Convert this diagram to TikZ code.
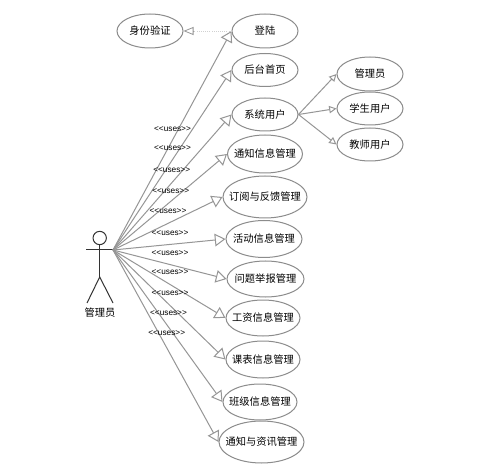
\documentclass[tikz,border=0pt]{standalone}
\usepackage{fontspec}
\setmainfont{Liberation Sans}[Ligatures=NoCommon]
\newfontfamily\cjk{Noto Sans CJK SC}
\usetikzlibrary{shapes.geometric,arrows.meta}
\definecolor{ucline}{HTML}{8C8C8C}
\definecolor{arrline}{HTML}{969696}
\newcommand{\uct}[1]{\makebox[0pt]{#1}}
\newcommand{\usesmark}{<{}<uses>{}>}
\tikzset{
  uc/.style n args={2}{ellipse,draw=ucline,line width=0.75pt,fill=white,inner sep=0pt,
    minimum width=#1*1.5pt,minimum height=#2*1.5pt,font=\cjk\fontsize{7.7pt}{9pt}\selectfont,text=black},
  usesline/.style={draw=arrline,line width=0.75pt,-{Triangle[open,length=8pt,width=9.5pt,fill=white]}},
  subline/.style={draw=arrline,line width=0.75pt,-{Triangle[open,length=5.5pt,width=5.5pt,fill=white]}},
  usestext/.style={font=\fontsize{6.2pt}{7pt}\selectfont,inner sep=0pt,text=black},
  actorline/.style={draw=black!80,line width=0.75pt},
}
\begin{document}
\begin{tikzpicture}[x=0.75pt,y=-0.75pt]
\path[use as bounding box,fill=white] (0,0) rectangle (503,470);

% actor
\node[circle,draw=black!80,line width=0.75pt,minimum size=10pt,inner sep=0pt] (head) at (99.7,238) {};
\coordinate (hub) at (113,250);
\coordinate (handl) at (86,250);
\coordinate (hip) at (99.7,277);
\coordinate (footl) at (87,303);
\coordinate (footr) at (113,303);
\draw[actorline] (handl) -- (hub);
\draw[actorline] (head.south) -- (hip);
\draw[actorline] (footl) -- (hip) -- (footr);
\node[font=\cjk\fontsize{7.7pt}{9pt}\selectfont,inner sep=0pt] (actorlabel) at (100,313) {管理员};

\node[uc={33}{17}] (auth) at (150,31) {\uct{身份验证}};
\node[uc={33}{17}] (login) at (265,31) {\uct{登陆}};
\node[uc={33}{16.5}] (home) at (265,70) {\uct{后台首页}};
\node[uc={33}{16.5}] (sys) at (265,114.5) {\uct{系统用户}};
\node[uc={37.5}{19}] (notice) at (265,154) {\uct{通知信息管理}};
\node[uc={42}{21}] (sub) at (265,197) {\uct{订阅与反馈管理}};
\node[uc={38}{18.5}] (act) at (264,239) {\uct{活动信息管理}};
\node[uc={38.5}{18}] (report) at (265.5,279) {\uct{问题举报管理}};
\node[uc={37}{18}] (wage) at (263,318) {\uct{工资信息管理}};
\node[uc={37}{18.5}] (course) at (263,359.5) {\uct{课表信息管理}};
\node[uc={37}{18}] (class) at (260,402) {\uct{班级信息管理}};
\node[uc={42.5}{21}] (news) at (261.5,442) {\uct{通知与资讯管理}};
\node[uc={33}{17}] (admin) at (370,74) {\uct{管理员}};
\node[uc={33}{16.5}] (stu) at (370,108.5) {\uct{学生用户}};
\node[uc={33}{16.5}] (tea) at (370,144.5) {\uct{教师用户}};

\foreach \t in {login,home,sys,notice,sub,act,report,wage,course,class,news}
  \draw[usesline] (hub) -- (\t.west);
\foreach \t in {admin,stu,tea}
  \draw[subline] (sys.east) -- (\t.west);
\draw[draw=black!18,line width=0.6pt,densely dotted] (login.west) -- (193,31) coordinate (authtip);
\draw[draw=arrline,line width=0.6pt,-{Triangle[open,length=7.5pt,width=6pt,fill=white]}] (authtip) -- (auth.east);

\node[usestext] (u1) at (172.5,129) {\usesmark};
\node[usestext] (u2) at (172.5,148) {\usesmark};
\node[usestext] (u3) at (171.7,170) {\usesmark};
\node[usestext] (u4) at (170.7,190.7) {\usesmark};
\node[usestext] (u5) at (168,210.7) {\usesmark};
\node[usestext] (u6) at (170,232.7) {\usesmark};
\node[usestext] (u7) at (170,252.7) {\usesmark};
\node[usestext] (u8) at (170,271.7) {\usesmark};
\node[usestext] (u9) at (170,292.7) {\usesmark};
\node[usestext] (u10) at (168.5,313.5) {\usesmark};
\node[usestext] (u11) at (166.7,333) {\usesmark};
\end{tikzpicture}
\end{document}
